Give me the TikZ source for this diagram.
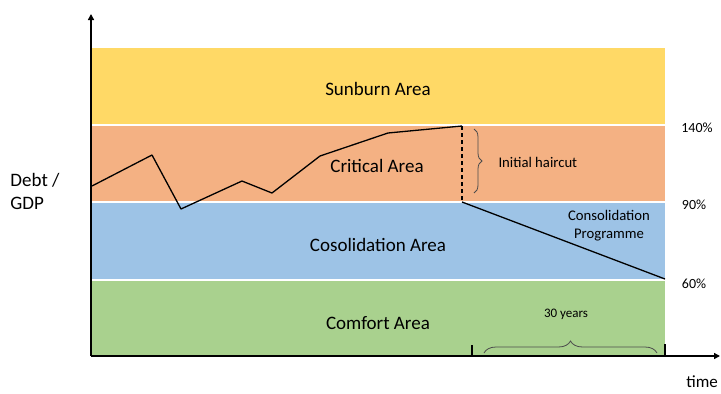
\documentclass[tikz,border=0pt]{standalone}
\usepackage{fontspec}
\setmainfont{Carlito}
\usetikzlibrary{decorations.pathreplacing,arrows.meta}
\definecolor{cyellow}{HTML}{FFD966}
\definecolor{corange}{HTML}{F4B183}
\definecolor{cblue}{HTML}{9DC3E6}
\definecolor{cgreen}{HTML}{A9D18E}
\begin{document}
\begin{tikzpicture}[x=1pt,y=-1pt,
  bandtext/.style={font=\fontsize{19}{22}\selectfont},
  small/.style={font=\fontsize{14.7}{18}\selectfont},
  pct/.style={font=\fontsize{14}{16}\selectfont},
  axis/.style={line width=2pt,-{Triangle[length=6pt,width=6pt]}},
  dline/.style={line width=1.3pt},
  bracestyle/.style={decorate,line width=0.8pt,draw=black!70}]
\useasboundingbox (0,0) rectangle (721,394);
% bands
\fill[cyellow] (92,48) rectangle (665,124);
\fill[corange] (92,126) rectangle (665,201);
\fill[cblue] (92,203) rectangle (665,279);
\fill[cgreen] (92,281) rectangle (665,355);
\node[bandtext] (sun) at (378,89) {Sunburn Area};
\node[bandtext] (crit) at (377,166) {Critical Area};
\node[bandtext] (cons) at (378,245) {Cosolidation Area};
\node[bandtext] (comf) at (378,323) {Comfort Area};
% axes
\coordinate (o) at (91,356);
\coordinate (ytop) at (91,14);
\coordinate (xend) at (720,356);
\draw[axis] (o) -- (ytop);
\draw[axis] (o) -- (xend);
\node[font=\fontsize{19}{23}\selectfont,align=left] (ylab) at (35,191) {Debt /\\GDP};
\node[font=\fontsize{17}{20}\selectfont,anchor=east,inner sep=0pt] (xlab) at (718,382) {time};
% data line
\coordinate (p0) at (92,186);
\coordinate (p1) at (152,155);
\coordinate (p2) at (181,209);
\coordinate (p3) at (242,181);
\coordinate (p4) at (272,193);
\coordinate (p5) at (320,156);
\coordinate (p6) at (388,133);
\coordinate (p7) at (462,126);
\coordinate (p8) at (462,202);
\coordinate (p9) at (665,279);
\draw[dline,line join=round] (p0) -- (p1) -- (p2) -- (p3) -- (p4) -- (p5) -- (p6) -- (p7);
\draw[dline,dashed,dash pattern=on 4pt off 3pt] (p7) -- (p8);
\draw[dline] (p8) -- (p9);
% haircut brace
\coordinate (b1) at (474,129);
\coordinate (b2) at (474,193);
\draw[bracestyle,decoration={brace,amplitude=8pt}] (b1) -- (b2);
\node[small,anchor=west] (hair) at (495,162) {Initial haircut};
\node[small,align=center] (prog) at (609,226) {Consolidation\\Programme};
% percentages
\node[pct] (p140) at (697,128) {140\%};
\node[pct] (p90) at (694,205) {90\%};
\node[pct] (p60) at (694,284) {60\%};
% bottom ticks
\coordinate (t1a) at (472,345);
\coordinate (t1b) at (472,357);
\coordinate (t2a) at (665,344);
\coordinate (t2b) at (665,357);
\draw[line width=1.3pt] (t1a) -- (t1b);
\draw[line width=1.3pt] (t2a) -- (t2b);
\coordinate (c1) at (484,353);
\coordinate (c2) at (657,353);
\draw[bracestyle,decoration={brace,amplitude=12pt}] (c1) -- (c2);
\node[font=\fontsize{13}{15}\selectfont] (yrs) at (566,314) {30 years};
\end{tikzpicture}
\end{document}
